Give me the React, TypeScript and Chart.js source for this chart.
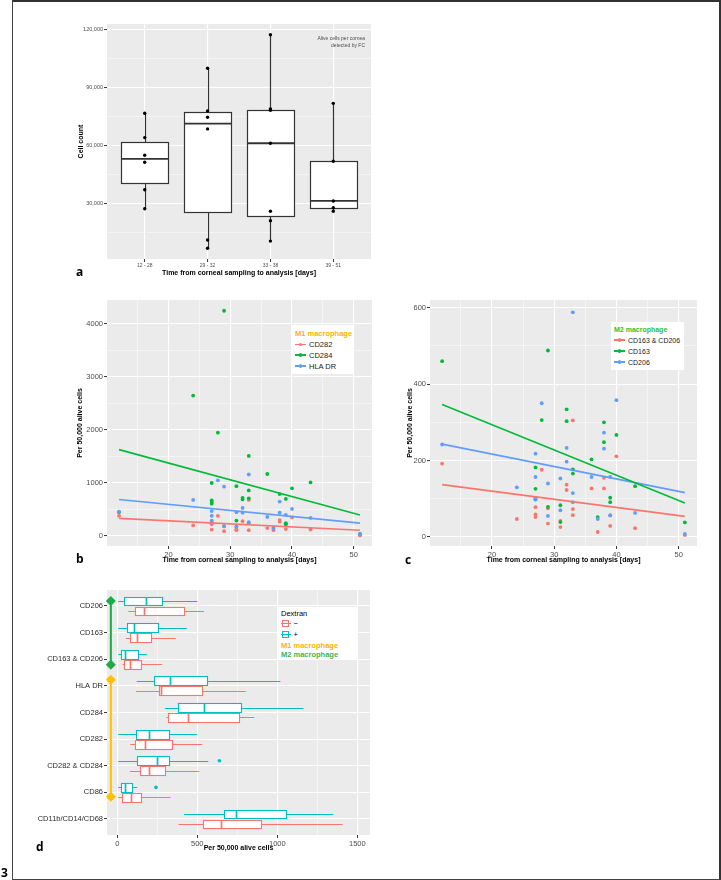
import React, { useEffect, useRef } from 'react';
import { Chart, registerables } from 'chart.js';

Chart.register(...registerables);

const FONT = "'Liberation Sans', Arial, sans-serif";
Chart.defaults.font.family = FONT;

const RED = '#F8766D';
const GREEN = '#00BA38';
const BLUE = '#619CFF';
const CYAN = '#00BFC4';
const M1_COLOR = '#FFB300';
const PANEL = '#EBEBEB';

// ---------- Panel a: alive cells per cornea ----------
const aCategories = ['12 - 28', '29 - 32', '33 - 38', '39 - 51'];
const aLower = [27400, 7000, 10700, 26100];
const aQ1 = [40800, 25700, 23500, 27800];
const aMedian = [53100, 71300, 61200, 31500];
const aQ3 = [61700, 77200, 78500, 51900];
const aUpper = [76700, 99900, 117200, 81800];
const aGroup1 = [76700, 64100, 55000, 51400, 37200, 27400];
const aGroup2 = [99900, 77900, 74600, 68600, 11300, 7000];
const aGroup3 = [117200, 78900, 78200, 61200, 26100, 21200, 10700];
const aGroup4 = [81800, 51900, 31400, 27900, 26100];
const aYMajor = [30000, 60000, 90000, 120000];
const aYMinor = [15000, 45000, 75000, 105000];

// ---------- Panel b: M1 macrophage ----------
const fitDays = [12, 51];
const bCd282Days = [12, 24, 27, 27, 27, 28, 29, 29, 31, 31, 31, 32, 33, 33, 36, 37, 38, 38, 39, 39, 40, 43, 51];
const bCd282Vals = [380, 200, 240, 220, 120, 380, 180, 90, 170, 125, 110, 280, 680, 110, 150, 110, 300, 270, 230, 130, 350, 120, 10];
const bCd284Days = [12, 24, 27, 27, 27, 27, 28, 29, 31, 31, 32, 32, 33, 33, 33, 36, 38, 39, 39, 39, 40, 43, 51];
const bCd284Vals = [450, 2650, 1000, 670, 640, 610, 1950, 4250, 940, 290, 720, 690, 1510, 860, 710, 1170, 790, 700, 240, 220, 900, 1010, 40];
const bHlaDays = [12, 24, 27, 27, 27, 27, 28, 29, 29, 31, 31, 32, 32, 33, 33, 33, 36, 37, 37, 38, 38, 39, 40, 43, 51];
const bHlaVals = [460, 680, 470, 380, 290, 260, 1050, 930, 190, 450, 180, 530, 440, 1160, 260, 240, 360, 160, 140, 650, 440, 400, 510, 340, 30];
const bCd282Fit = [332, 109];
const bCd284Fit = [1630, 395];
const bHlaFit = [687, 242];
const bLabels = ['CD282', 'CD284', 'HLA DR'];

// ---------- Panel c: M2 macrophage ----------
const cBothDays = [12, 24, 27, 27, 27, 28, 29, 29, 31, 31, 32, 32, 33, 33, 33, 36, 37, 38, 38, 39, 39, 40, 43, 51];
const cBothVals = [192, 47, 78, 59, 52, 176, 75, 35, 42, 26, 137, 123, 305, 73, 57, 127, 13, 155, 127, 56, 29, 211, 23, 5];
const cCd163Days = [12, 27, 27, 27, 27, 28, 29, 29, 31, 31, 32, 32, 33, 33, 36, 37, 38, 38, 39, 39, 40, 43, 51];
const cCd163Vals = [460, 182, 126, 102, 98, 306, 488, 79, 83, 39, 334, 303, 177, 166, 203, 52, 300, 248, 103, 91, 267, 133, 38];
const cCd206Days = [12, 24, 27, 27, 27, 28, 29, 29, 31, 31, 32, 32, 33, 33, 33, 36, 37, 38, 38, 39, 39, 40, 43, 51];
const cCd206Vals = [242, 130, 218, 157, 99, 350, 140, 55, 153, 70, 233, 197, 588, 115, 91, 157, 47, 273, 231, 157, 57, 358, 63, 8];
const cBothFit = [137, 54];
const cCd163Fit = [347, 89];
const cCd206Fit = [243, 116];
const cLabels = ['CD163 & CD206', 'CD163', 'CD206'];

// ---------- Panel d: Dextran boxplots ----------
const dCategories = ['CD206', 'CD163', 'CD163 & CD206', 'HLA DR', 'CD284', 'CD282', 'CD282 & CD284', 'CD86', 'CD11b/CD14/CD68'];
const dMinusLower = [69, 54, 33, 117, 308, 81, 79, 6, 383];
const dMinusQ1 = [108, 77, 40, 263, 319, 113, 142, 27, 535];
const dMinusMedian = [169, 121, 81, 273, 440, 175, 200, 88, 646];
const dMinusQ3 = [417, 212, 150, 529, 760, 342, 298, 150, 900];
const dMinusUpper = [542, 365, 281, 802, 856, 531, 513, 333, 1408];
const dPlusLower = [6, 6, 6, 121, 298, 6, 6, 6, 417];
const dPlusQ1 = [44, 62, 21, 229, 377, 119, 125, 21, 669];
const dPlusMedian = [177, 104, 48, 327, 544, 200, 246, 46, 744];
const dPlusQ3 = [277, 256, 129, 563, 773, 323, 325, 92, 1054];
const dPlusUpper = [500, 435, 185, 1019, 1163, 498, 569, 125, 1350];
const dPlusOutlierCats = [6, 7];
const dPlusOutlierVals = [638, 242];
const dAnnotX = -40;
const dM2Span = [-0.19, 2.21];
const dM1Span = [2.77, 7.16];

// ---------- helpers ----------
type AxisCfg = {
  pos: 'left' | 'bottom';
  min: number;
  max: number;
  major: number[];
  minor: number[];
  label: (v: number) => string;
  fontSize: number;
  size: number;
  reverse?: boolean;
  labelColor?: string;
  title?: string;
  titleSize?: number;
  titlePad?: { top: number; bottom: number };
};

function axis(c: AxisCfg) {
  const all = [...c.major, ...c.minor].sort((p, q) => p - q);
  const isMajor = (v: any) => c.major.includes(v);
  return {
    type: 'linear',
    position: c.pos,
    min: c.min,
    max: c.max,
    reverse: !!c.reverse,
    afterBuildTicks: (s: any) => {
      s.ticks = all.map((v) => ({ value: v }));
    },
    afterFit: (s: any) => {
      if (c.pos === 'left') s.width = c.size;
      else s.height = c.size;
    },
    border: { display: false },
    grid: {
      color: '#FFFFFF',
      lineWidth: (ctx: any) => (isMajor(ctx.tick?.value) ? 1.1 : 0.5),
      drawTicks: true,
      tickLength: 3,
      tickWidth: 1,
      tickColor: (ctx: any) => (isMajor(ctx.tick?.value) ? '#333333' : 'rgba(0,0,0,0)'),
    },
    ticks: {
      autoSkip: false,
      maxRotation: 0,
      minRotation: 0,
      padding: 1,
      color: c.labelColor ?? '#4D4D4D',
      font: { family: FONT, size: c.fontSize },
      callback: (v: any) => (isMajor(v) ? c.label(v) : ''),
    },
    title: c.title
      ? {
          display: true,
          text: c.title,
          color: '#000000',
          font: { family: FONT, size: c.titleSize, weight: 'bold' },
          padding: c.titlePad,
        }
      : { display: false },
  };
}

function baseOptions(padding: any, scales: any) {
  return {
    responsive: false,
    maintainAspectRatio: false,
    animation: false,
    events: [],
    layout: { padding },
    plugins: { legend: { display: false }, tooltip: { enabled: false } },
    scales,
  };
}

const snap = (v: number) => Math.round(v) + 0.5;

const panelBackground = {
  id: 'panelBackground',
  beforeDraw(chart: any) {
    const { ctx, chartArea: a } = chart;
    ctx.save();
    ctx.fillStyle = PANEL;
    ctx.fillRect(a.left, a.top, a.right - a.left, a.bottom - a.top);
    ctx.restore();
  },
};

const verticalBoxes = {
  id: 'verticalBoxes',
  beforeDatasetsDraw(chart: any) {
    const { ctx, scales } = chart;
    const x = scales.x;
    const y = scales.y;
    ctx.save();
    ctx.strokeStyle = '#333333';
    aCategories.forEach((_, i) => {
      const c = snap(x.getPixelForValue(i + 1));
      const l = snap(x.getPixelForValue(i + 1 - 0.375));
      const r = snap(x.getPixelForValue(i + 1 + 0.375));
      const q1 = snap(y.getPixelForValue(aQ1[i]));
      const q3 = snap(y.getPixelForValue(aQ3[i]));
      ctx.lineWidth = 1.2;
      ctx.beginPath();
      ctx.moveTo(c, y.getPixelForValue(aUpper[i]));
      ctx.lineTo(c, q3);
      ctx.moveTo(c, q1);
      ctx.lineTo(c, y.getPixelForValue(aLower[i]));
      ctx.stroke();
      ctx.fillStyle = '#FFFFFF';
      ctx.fillRect(l, q3, r - l, q1 - q3);
      ctx.strokeRect(l, q3, r - l, q1 - q3);
      const m = y.getPixelForValue(aMedian[i]);
      ctx.lineWidth = 1.8;
      ctx.beginPath();
      ctx.moveTo(l, m);
      ctx.lineTo(r, m);
      ctx.stroke();
    });
    ctx.restore();
  },
};

const dGroups = [
  { color: RED, offset: 0.1875, lower: dMinusLower, q1: dMinusQ1, med: dMinusMedian, q3: dMinusQ3, upper: dMinusUpper },
  { color: CYAN, offset: -0.1875, lower: dPlusLower, q1: dPlusQ1, med: dPlusMedian, q3: dPlusQ3, upper: dPlusUpper },
];

const horizontalBoxes = {
  id: 'horizontalBoxes',
  beforeDatasetsDraw(chart: any) {
    const { ctx, scales } = chart;
    const x = scales.x;
    const y = scales.y;
    ctx.save();
    dCategories.forEach((_, i) => {
      dGroups.forEach((g) => {
        const c = snap(y.getPixelForValue(i + g.offset));
        const t = snap(y.getPixelForValue(i + g.offset - 0.165));
        const b = snap(y.getPixelForValue(i + g.offset + 0.165));
        const l = snap(x.getPixelForValue(g.q1[i]));
        const r = snap(x.getPixelForValue(g.q3[i]));
        ctx.strokeStyle = g.color;
        ctx.lineWidth = 1.1;
        ctx.beginPath();
        ctx.moveTo(x.getPixelForValue(g.lower[i]), c);
        ctx.lineTo(l, c);
        ctx.moveTo(r, c);
        ctx.lineTo(x.getPixelForValue(g.upper[i]), c);
        ctx.stroke();
        ctx.fillStyle = '#FFFFFF';
        ctx.fillRect(l, t, r - l, b - t);
        ctx.strokeRect(l, t, r - l, b - t);
        const m = snap(x.getPixelForValue(g.med[i]));
        ctx.lineWidth = 1.7;
        ctx.beginPath();
        ctx.moveTo(m, t);
        ctx.lineTo(m, b);
        ctx.stroke();
      });
    });
    ctx.restore();
  },
};

const groupBars = {
  id: 'groupBars',
  afterDatasetsDraw(chart: any) {
    const { ctx, scales } = chart;
    const x = scales.x;
    const y = scales.y;
    const px = x.getPixelForValue(dAnnotX);
    const spans = [
      { span: dM2Span, color: '#1FAA4A' },
      { span: dM1Span, color: '#FFC000' },
    ];
    ctx.save();
    spans.forEach(({ span, color }) => {
      const y0 = y.getPixelForValue(span[0]);
      const y1 = y.getPixelForValue(span[1]);
      ctx.strokeStyle = color;
      ctx.fillStyle = color;
      ctx.lineWidth = 2;
      ctx.beginPath();
      ctx.moveTo(px, y0);
      ctx.lineTo(px, y1);
      ctx.stroke();
      [y0, y1].forEach((py) => {
        const s = 5;
        ctx.beginPath();
        ctx.moveTo(px, py - s);
        ctx.lineTo(px + s, py);
        ctx.lineTo(px, py + s);
        ctx.lineTo(px - s, py);
        ctx.closePath();
        ctx.fill();
      });
    });
    ctx.restore();
  },
};

function pointSet(label: string, days: number[], vals: number[], color: string, order: number) {
  return {
    label,
    data: days.map((d, i) => ({ x: d, y: vals[i] })),
    backgroundColor: color,
    borderColor: color,
    pointRadius: 1.9,
    borderWidth: 0,
    showLine: false,
    order,
  };
}

function fitSet(label: string, vals: number[], color: string) {
  return {
    label,
    data: fitDays.map((d, i) => ({ x: d, y: vals[i] })),
    backgroundColor: color,
    borderColor: color,
    pointRadius: 0,
    borderWidth: 1.6,
    showLine: true,
    order: 0,
  };
}

// ---------- chart builders ----------
function buildA() {
  const groups = [aGroup1, aGroup2, aGroup3, aGroup4];
  return {
    type: 'scatter',
    data: {
      datasets: [
        {
          label: 'Alive cells',
          data: groups.flatMap((g, i) => g.map((v) => ({ x: i + 1, y: v }))),
          backgroundColor: '#000000',
          borderColor: '#000000',
          pointRadius: 1.7,
          borderWidth: 0,
        },
      ],
    },
    options: baseOptions(
      { left: 0, top: 6, right: 9, bottom: 0 },
      {
        x: axis({
          pos: 'bottom', min: 0.4, max: 4.6, major: [1, 2, 3, 4], minor: [],
          label: (v) => aCategories[v - 1], fontSize: 5, size: 29,
          title: 'Time from corneal sampling to analysis [days]', titleSize: 7,
          titlePad: { top: 0, bottom: 11 },
        }),
        y: axis({
          pos: 'left', min: 1460, max: 122740, major: aYMajor, minor: aYMinor,
          label: (v) => v.toLocaleString('en-US'), fontSize: 5.5, size: 47,
          title: 'Cell count', titleSize: 7, titlePad: { top: 16.5, bottom: 0 },
        }),
      }
    ),
    plugins: [panelBackground, verticalBoxes],
  };
}

function timeAxis(titlePadBottom: number) {
  return axis({
    pos: 'bottom', min: 10.05, max: 52.95, major: [20, 30, 40, 50], minor: [15, 25, 35, 45],
    label: (v) => String(v), fontSize: 7.5, size: 24,
    title: 'Time from corneal sampling to analysis [days]', titleSize: 7,
    titlePad: { top: 0, bottom: titlePadBottom },
  });
}

function buildB() {
  return {
    type: 'scatter',
    data: {
      datasets: [
        fitSet(bLabels[0] + ' fit', bCd282Fit, RED),
        fitSet(bLabels[1] + ' fit', bCd284Fit, GREEN),
        fitSet(bLabels[2] + ' fit', bHlaFit, BLUE),
        pointSet(bLabels[0], bCd282Days, bCd282Vals, RED, 3),
        pointSet(bLabels[1], bCd284Days, bCd284Vals, GREEN, 2),
        pointSet(bLabels[2], bHlaDays, bHlaVals, BLUE, 1),
      ],
    },
    options: baseOptions(
      { left: 0, top: 6, right: 8, bottom: 0 },
      {
        x: timeAxis(5.8),
        y: axis({
          pos: 'left', min: -189, max: 4453, major: [0, 1000, 2000, 3000, 4000], minor: [500, 1500, 2500, 3500],
          label: (v) => String(v), fontSize: 7.5, size: 47,
          title: 'Per 50,000 alive cells', titleSize: 7, titlePad: { top: 15.8, bottom: 0 },
        }),
      }
    ),
    plugins: [panelBackground],
  };
}

function buildC() {
  return {
    type: 'scatter',
    data: {
      datasets: [
        fitSet(cLabels[0] + ' fit', cBothFit, RED),
        fitSet(cLabels[1] + ' fit', cCd163Fit, GREEN),
        fitSet(cLabels[2] + ' fit', cCd206Fit, BLUE),
        pointSet(cLabels[0], cBothDays, cBothVals, RED, 3),
        pointSet(cLabels[1], cCd163Days, cCd163Vals, GREEN, 2),
        pointSet(cLabels[2], cCd206Days, cCd206Vals, BLUE, 1),
      ],
    },
    options: baseOptions(
      { left: 0, top: 6, right: 6, bottom: 0 },
      {
        x: timeAxis(5.8),
        y: axis({
          pos: 'left', min: -23.6, max: 620.2, major: [0, 200, 400, 600], minor: [100, 300, 500],
          label: (v) => String(v), fontSize: 7.5, size: 47,
          title: 'Per 50,000 alive cells', titleSize: 7, titlePad: { top: 22.8, bottom: 0 },
        }),
      }
    ),
    plugins: [panelBackground],
  };
}

function buildD() {
  return {
    type: 'scatter',
    data: {
      datasets: [
        {
          label: 'Outliers (+)',
          data: dPlusOutlierCats.map((c, i) => ({ x: dPlusOutlierVals[i], y: c + dGroups[1].offset })),
          backgroundColor: CYAN,
          borderColor: CYAN,
          pointRadius: 1.8,
          borderWidth: 0,
        },
      ],
    },
    options: baseOptions(
      { left: 0, top: 6, right: 5, bottom: 0 },
      {
        x: axis({
          pos: 'bottom', min: -64, max: 1579, major: [0, 500, 1000, 1500], minor: [250, 750, 1250],
          label: (v) => String(v), fontSize: 7.5, size: 25,
          title: 'Per 50,000 alive cells', titleSize: 7, titlePad: { top: 0, bottom: 7.5 },
        }),
        y: axis({
          pos: 'left', min: -0.6, max: 8.6, reverse: true, major: dCategories.map((_, i) => i), minor: [],
          label: (v) => dCategories[v], fontSize: 7.5, size: 77, labelColor: '#2B2B2B',
        }),
      }
    ),
    plugins: [panelBackground, horizontalBoxes, groupBars],
  };
}

// ---------- components ----------
type BoxPos = { left: number; top: number; width: number; height: number };

function ChartCanvas({ box, build }: { box: BoxPos; build: () => any }) {
  const ref = useRef<HTMLCanvasElement | null>(null);
  useEffect(() => {
    if (!ref.current) return;
    const chart = new Chart(ref.current, build());
    return () => chart.destroy();
  }, []);
  return (
    <canvas
      ref={ref}
      width={box.width}
      height={box.height}
      style={{ position: 'absolute', left: box.left, top: box.top, width: box.width, height: box.height, display: 'block' }}
    />
  );
}

function FitLegend(props: {
  left: number; top: number; width: number; height: number; title: string; titleColor: string;
  labels: string[]; colors: string[]; titleTop: number; rowTop: number; rowStep: number; fontSize: number;
}) {
  const { left, top, width, height, title, titleColor, labels, colors, titleTop, rowTop, rowStep, fontSize } = props;
  return (
    <div style={{ position: 'absolute', left, top, width, height, background: '#FFFFFF' }}>
      <div style={{ position: 'absolute', left: 3, top: titleTop, fontSize: fontSize, lineHeight: '9px', fontWeight: 'bold', color: titleColor, whiteSpace: 'nowrap' }}>
        {title}
      </div>
      {labels.map((lab, i) => (
        <div key={lab} style={{ position: 'absolute', left: 3, top: rowTop + i * rowStep, height: 9, width: width - 4 }}>
          <span style={{ position: 'absolute', left: 0, top: 3.7, width: 11, height: 1.6, background: colors[i] }} />
          <span style={{ position: 'absolute', left: 3.6, top: 2.6, width: 3.8, height: 3.8, borderRadius: '50%', background: colors[i] }} />
          <span style={{ position: 'absolute', left: 14, top: 0, fontSize: fontSize, lineHeight: '9px', color: '#1A1A1A', whiteSpace: 'nowrap' }}>
            {lab}
          </span>
        </div>
      ))}
    </div>
  );
}

function BoxKey({ color }: { color: string }) {
  return (
    <span style={{ position: 'absolute', left: 0, top: 1, width: 10, height: 7 }}>
      <span style={{ position: 'absolute', left: 0, top: 3, width: 10, height: 1, background: color }} />
      <span style={{ position: 'absolute', left: 1.5, top: 0, width: 7, height: 7, border: `1px solid ${color}`, boxSizing: 'border-box', background: '#FFFFFF' }} />
      <span style={{ position: 'absolute', left: 2.5, top: 3, width: 5, height: 1, background: color }} />
    </span>
  );
}

function DextranLegend() {
  const rows = [
    { text: '−', color: RED },
    { text: '+', color: CYAN },
  ];
  return (
    <div style={{ position: 'absolute', left: 277, top: 606.5, width: 80, height: 53, background: '#FFFFFF' }}>
      <div style={{ position: 'absolute', left: 4, top: 2, fontSize: 7.5, lineHeight: '9px', color: '#000' }}>Dextran</div>
      {rows.map((r, i) => (
        <div key={r.text} style={{ position: 'absolute', left: 3.5, top: 12.7 + i * 10.4, width: 70, height: 9 }}>
          <BoxKey color={r.color} />
          <span style={{ position: 'absolute', left: 13, top: 0, fontSize: 7.5, lineHeight: '9px', color: '#000' }}>{r.text}</span>
        </div>
      ))}
      <div style={{ position: 'absolute', left: 4, top: 34, fontSize: 7.5, lineHeight: '9px', fontWeight: 'bold', color: M1_COLOR, whiteSpace: 'nowrap' }}>
        M1 macrophage
      </div>
      <div style={{ position: 'absolute', left: 4, top: 43.7, fontSize: 7.5, lineHeight: '9px', fontWeight: 'bold', color: '#3DB54A', whiteSpace: 'nowrap' }}>
        M2 macrophage
      </div>
    </div>
  );
}

const letterStyle: React.CSSProperties = {
  position: 'absolute',
  fontFamily: "'Open Sans', 'Liberation Sans', sans-serif",
  fontWeight: 700,
  fontSize: 12,
  lineHeight: '14px',
  color: '#000',
};

export default function App() {
  return (
    <div style={{ position: 'absolute', left: 0, top: 0, width: 721, height: 880, background: '#FFFFFF', overflow: 'hidden', fontFamily: FONT }}>
      <div style={{ position: 'absolute', left: 12, top: 0, width: 709, height: 880, borderTop: '2px solid #333', borderRight: '2px solid #333', borderLeft: '1.5px solid #444', borderBottom: '1.5px solid #444', boxSizing: 'border-box' }} />

      <ChartCanvas box={{ left: 60, top: 18, width: 320, height: 270 }} build={buildA} />
      <div style={{ position: 'absolute', right: 356, top: 35, fontSize: 5, lineHeight: '7.3px', color: '#4D4D4D', textAlign: 'right', whiteSpace: 'nowrap' }}>
        Alive cells per cornea
        <br />
        detected by FC
      </div>

      <ChartCanvas box={{ left: 60, top: 294, width: 320, height: 276 }} build={buildB} />
      <FitLegend left={292} top={325} width={61} height={49} title="M1 macrophage" titleColor={M1_COLOR}
        labels={bLabels} colors={[RED, GREEN, BLUE]} titleTop={4} rowTop={15} rowStep={10.8} fontSize={7.5} />

      <ChartCanvas box={{ left: 383, top: 294, width: 320, height: 276 }} build={buildC} />
      <FitLegend left={611} top={322} width={73} height={48} title="M2 macrophage" titleColor="#2EC02E"
        labels={cLabels} colors={[RED, GREEN, BLUE]} titleTop={2.5} rowTop={13.5} rowStep={11} fontSize={7} />

      <ChartCanvas box={{ left: 30, top: 584, width: 345, height: 276 }} build={buildD} />
      <DextranLegend />

      <div style={{ ...letterStyle, left: 76, top: 265 }}>a</div>
      <div style={{ ...letterStyle, left: 76, top: 552 }}>b</div>
      <div style={{ ...letterStyle, left: 405, top: 553 }}>c</div>
      <div style={{ ...letterStyle, left: 36, top: 840 }}>d</div>
      <div style={{ ...letterStyle, left: 1, top: 866 }}>3</div>
    </div>
  );
}
